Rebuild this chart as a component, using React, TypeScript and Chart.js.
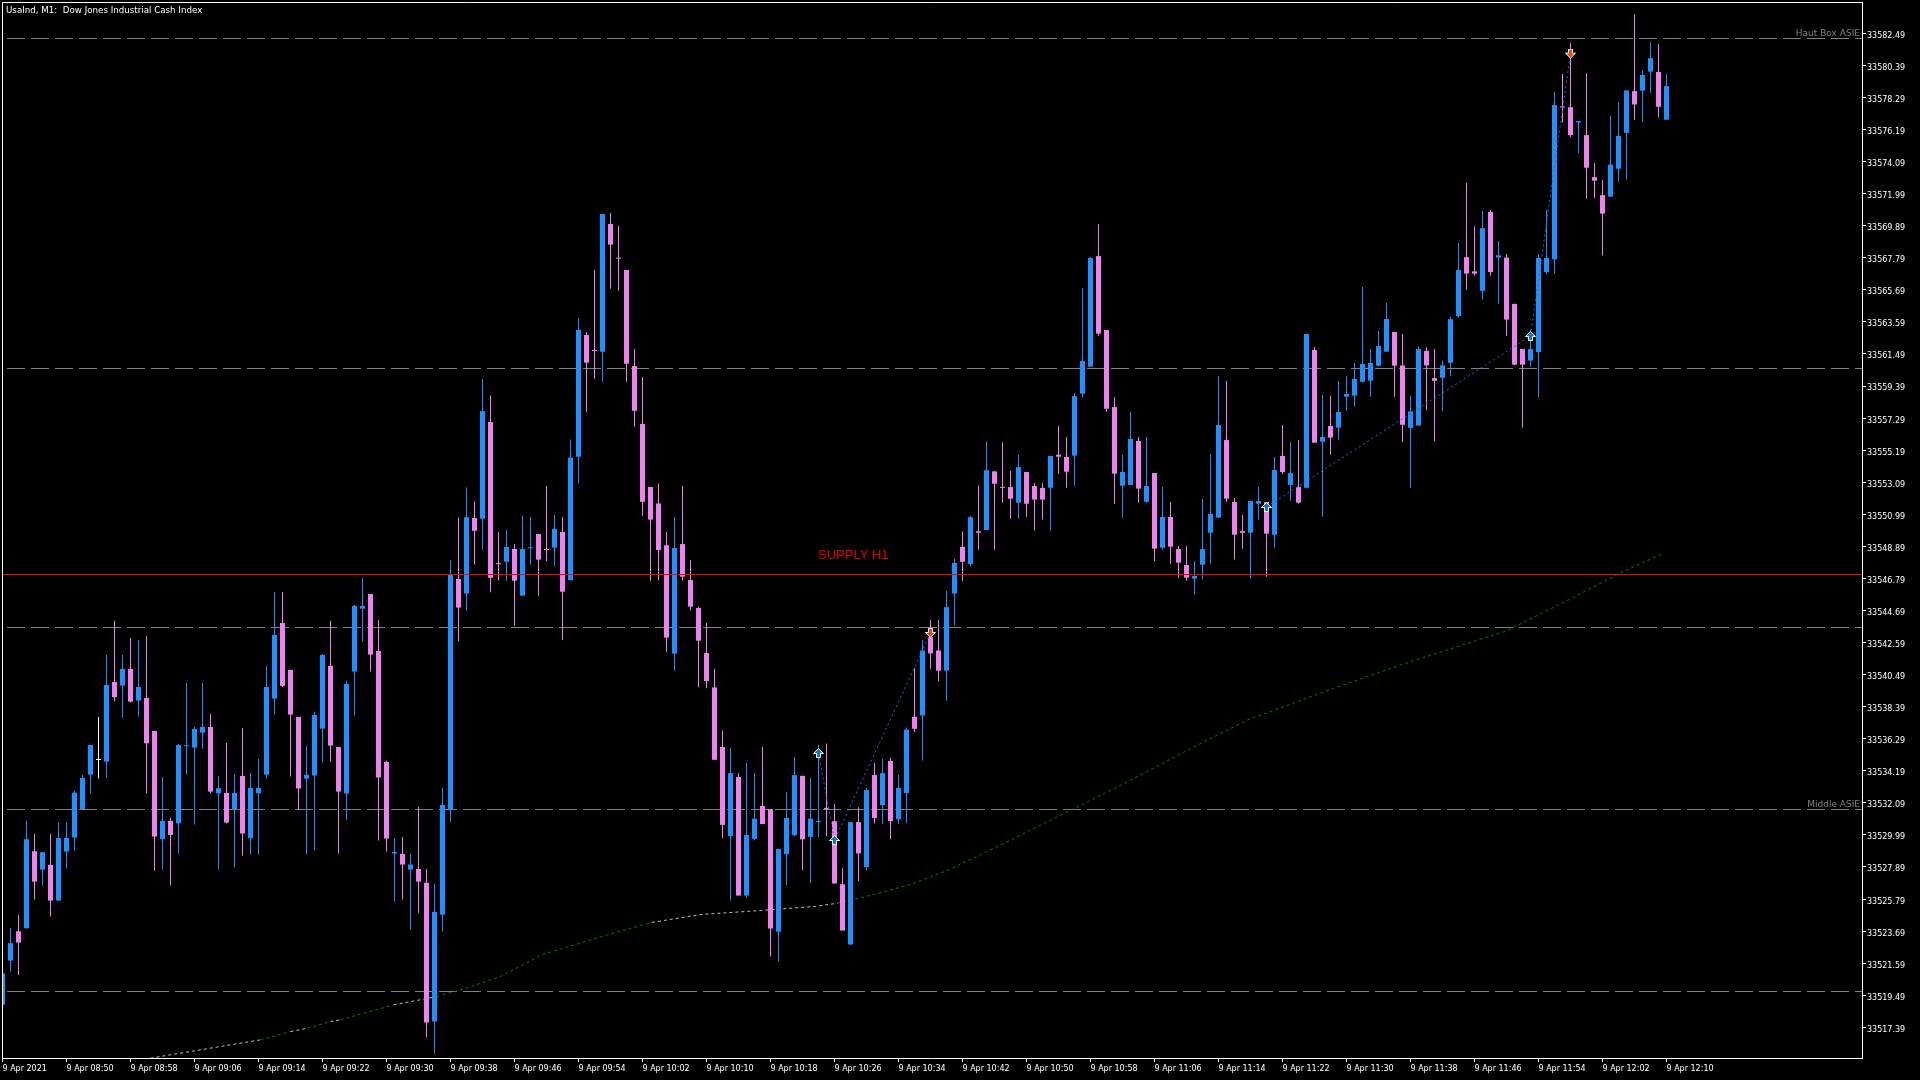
import React, { useEffect, useRef } from 'react';
import { Chart, registerables } from 'chart.js';

Chart.register(...registerables);

// ---------- data ----------
const chartTitle = 'UsaInd, M1:  Dow Jones Industrial Cash Index';

const timeLabels = [
  '9 Apr 2021', '9 Apr 08:50', '9 Apr 08:58', '9 Apr 09:06', '9 Apr 09:14', '9 Apr 09:22', '9 Apr 09:30',
  '9 Apr 09:38', '9 Apr 09:46', '9 Apr 09:54', '9 Apr 10:02', '9 Apr 10:10', '9 Apr 10:18', '9 Apr 10:26',
  '9 Apr 10:34', '9 Apr 10:42', '9 Apr 10:50', '9 Apr 10:58', '9 Apr 11:06', '9 Apr 11:14', '9 Apr 11:22',
  '9 Apr 11:30', '9 Apr 11:38', '9 Apr 11:46', '9 Apr 11:54', '9 Apr 12:02', '9 Apr 12:10',
];
const barsPerTimeLabel = 8;

const yTickLabels = [
  '33582.49', '33580.39', '33578.29', '33576.19', '33574.09', '33571.99', '33569.89', '33567.79',
  '33565.69', '33563.59', '33561.49', '33559.39', '33557.29', '33555.19', '33553.09', '33550.99',
  '33548.89', '33546.79', '33544.69', '33542.59', '33540.49', '33538.39', '33536.29', '33534.19',
  '33532.09', '33529.99', '33527.89', '33525.79', '33523.69', '33521.59', '33519.49', '33517.39',
];
const priceMin = 33515.38;
const priceMax = 33584.54;

const opens = [
  33518.86, 33521.76, 33523.68, 33523.88, 33528.92, 33527.72, 33528.03, 33525.69, 33528.90, 33529.82,
  33531.69, 33533.94, 33534.90, 33534.79, 33540.01, 33539.77, 33540.86, 33538.79, 33538.96, 33536.80,
  33529.71, 33530.91, 33530.75, 33535.80, 33535.71, 33536.69, 33537.06, 33532.72, 33532.74, 33531.69,
  33533.85, 33529.77, 33532.72, 33533.94, 33538.92, 33543.87, 33540.80, 33537.72, 33533.68, 33533.88,
  33536.95, 33541.06, 33535.75, 33532.70, 33540.69, 33544.81, 33545.77, 33542.04, 33534.77, 33528.77,
  33528.75, 33527.72, 33527.76, 33526.85, 33517.77, 33524.77, 33531.68, 33546.75, 33545.80, 33550.75,
  33550.70, 33557.04, 33547.78, 33547.88, 33548.72, 33545.66, 33548.76, 33549.70, 33548.69, 33548.80,
  33549.83, 33546.67, 33554.76, 33562.73, 33561.73, 33561.64, 33570.00, 33567.77, 33566.99, 33560.70,
  33556.90, 33552.78, 33551.70, 33548.96, 33541.86, 33549.04, 33546.68, 33544.85, 33541.90, 33539.65,
  33535.75, 33529.91, 33533.78, 33526.02, 33529.73, 33531.89, 33531.68, 33523.65, 33528.73, 33529.97,
  33533.86, 33529.86, 33530.83, 33531.76, 33530.89, 33526.76, 33522.81, 33530.83, 33527.89, 33533.91,
  33531.94, 33534.83, 33531.02, 33532.73, 33537.73, 33537.81, 33542.94, 33542.07, 33540.75, 33545.80,
  33548.86, 33547.73, 33549.88, 33549.96, 33553.80, 33552.78, 33552.77, 33551.75, 33553.76, 33552.84,
  33552.71, 33552.73, 33554.89, 33554.74, 33554.83, 33558.89, 33560.66, 33567.90, 33563.06, 33558.01,
  33552.86, 33552.91, 33555.79, 33551.81, 33553.69, 33548.80, 33550.81, 33548.71, 33547.67, 33546.77,
  33547.69, 33549.78, 33550.77, 33555.85, 33551.79, 33549.89, 33549.78, 33551.68, 33551.79, 33549.65,
  33554.81, 33552.91, 33552.77, 33552.73, 33561.75, 33555.74, 33556.77, 33556.66, 33558.69, 33558.76,
  33559.67, 33559.74, 33560.72, 33561.64, 33562.93, 33560.74, 33556.65, 33556.80, 33561.69, 33559.91,
  33559.93, 33560.91, 33563.97, 33567.83, 33566.90, 33565.62, 33570.79, 33567.80, 33567.80, 33564.77,
  33561.81, 33561.06, 33561.61, 33566.85, 33567.70, 33577.70, 33577.65, 33576.65, 33575.82, 33573.07,
  33571.89, 33571.79, 33573.62, 33575.97, 33578.70, 33578.73, 33579.98, 33579.96, 33576.83,
];
const highs = [
  33520.93, 33523.90, 33524.75, 33530.91, 33530.06, 33528.86, 33530.06, 33530.78, 33530.84, 33532.89,
  33533.92, 33535.88, 33537.72, 33541.78, 33544.01, 33541.78, 33542.89, 33542.76, 33543.02, 33536.80,
  33533.79, 33531.10, 33535.95, 33539.94, 33537.06, 33539.94, 33537.92, 33533.85, 33536.02, 33533.99,
  33537.00, 33534.05, 33534.97, 33541.06, 33545.90, 33545.90, 33540.80, 33537.72, 33535.82, 33538.05,
  33541.84, 33544.01, 33535.75, 33540.08, 33545.05, 33546.82, 33545.77, 33544.07, 33534.84, 33529.79,
  33529.86, 33528.77, 33531.82, 33527.76, 33526.78, 33533.07, 33547.99, 33550.78, 33552.75, 33551.83,
  33559.85, 33558.77, 33549.83, 33549.96, 33549.04, 33550.88, 33550.81, 33549.70, 33552.84, 33550.94,
  33550.81, 33555.88, 33563.84, 33562.93, 33566.99, 33570.65, 33570.72, 33569.87, 33566.99, 33561.81,
  33559.98, 33552.78, 33553.01, 33549.83, 33550.81, 33552.84, 33548.00, 33544.94, 33543.87, 33540.88,
  33536.83, 33535.68, 33534.04, 33534.70, 33534.04, 33535.75, 33531.68, 33529.07, 33532.81, 33535.10,
  33533.86, 33533.73, 33535.89, 33535.97, 33532.02, 33527.81, 33530.83, 33531.81, 33533.07, 33534.70,
  33534.96, 33535.04, 33533.91, 33537.02, 33540.91, 33542.75, 33544.07, 33544.07, 33545.96, 33548.07,
  33549.86, 33550.88, 33552.88, 33555.75, 33553.80, 33555.70, 33553.82, 33554.87, 33553.76, 33553.04,
  33553.04, 33554.81, 33556.77, 33556.05, 33558.93, 33565.81, 33567.84, 33570.00, 33563.06, 33558.67,
  33554.87, 33557.69, 33556.05, 33556.05, 33553.69, 33552.77, 33551.79, 33548.91, 33548.91, 33547.93,
  33551.99, 33554.94, 33560.07, 33559.72, 33552.05, 33550.94, 33551.86, 33552.77, 33551.79, 33554.74,
  33556.84, 33555.72, 33555.85, 33562.79, 33561.94, 33558.80, 33558.73, 33559.72, 33560.04, 33560.90,
  33565.87, 33561.81, 33562.99, 33564.82, 33562.93, 33562.79, 33558.73, 33561.99, 33561.91, 33561.81,
  33561.04, 33563.92, 33568.76, 33572.69, 33569.86, 33570.86, 33570.91, 33568.88, 33568.03, 33564.77,
  33561.81, 33563.07, 33568.03, 33570.91, 33578.65, 33579.83, 33581.86, 33576.75, 33579.88, 33573.99,
  33572.89, 33577.08, 33577.98, 33578.75, 33583.74, 33580.08, 33581.91, 33581.79, 33579.83,
];
const lows = [
  33518.86, 33521.04, 33520.82, 33523.84, 33525.76, 33526.67, 33524.64, 33525.69, 33527.79, 33528.96,
  33531.69, 33532.70, 33533.68, 33533.75, 33538.72, 33537.67, 33538.66, 33537.74, 33532.70, 33527.65,
  33527.72, 33526.67, 33528.77, 33533.94, 33530.67, 33535.64, 33532.70, 33527.72, 33530.73, 33527.87,
  33528.64, 33528.70, 33528.70, 33533.68, 33537.87, 33539.68, 33533.81, 33531.65, 33528.70, 33528.96,
  33534.73, 33534.79, 33528.77, 33530.99, 33537.81, 33542.65, 33540.69, 33529.62, 33528.90, 33525.62,
  33525.76, 33523.79, 33524.90, 33516.72, 33515.67, 33523.66, 33530.83, 33542.67, 33544.67, 33547.70,
  33548.67, 33545.88, 33546.65, 33546.64, 33543.69, 33545.66, 33547.69, 33545.66, 33547.89, 33547.62,
  33542.78, 33546.67, 33553.00, 33557.71, 33559.87, 33559.67, 33565.76, 33565.63, 33559.67, 33556.73,
  33550.90, 33546.64, 33546.65, 33541.99, 33540.75, 33546.64, 33544.68, 33539.66, 33539.59, 33534.91,
  33529.78, 33525.70, 33526.02, 33525.84, 33529.65, 33530.70, 33522.02, 33521.71, 33526.70, 33529.91,
  33527.68, 33526.84, 33529.83, 33529.91, 33526.81, 33523.73, 33522.81, 33526.97, 33527.68, 33530.76,
  33530.70, 33529.70, 33530.70, 33530.76, 33536.73, 33534.86, 33540.88, 33540.04, 33538.78, 33543.73,
  33546.62, 33547.59, 33548.67, 33549.96, 33548.67, 33551.75, 33550.70, 33550.70, 33550.83, 33549.92,
  33550.64, 33549.92, 33553.65, 33552.73, 33552.86, 33558.62, 33560.66, 33562.69, 33557.71, 33551.68,
  33550.77, 33552.91, 33551.75, 33551.75, 33547.89, 33548.67, 33547.75, 33546.84, 33546.64, 33545.72,
  33546.71, 33547.75, 33550.77, 33551.81, 33548.02, 33548.74, 33546.77, 33550.64, 33546.90, 33548.80,
  33553.63, 33551.88, 33551.68, 33552.67, 33555.68, 33550.83, 33554.89, 33555.87, 33557.77, 33558.04,
  33559.61, 33558.69, 33560.66, 33561.64, 33558.69, 33555.72, 33552.71, 33556.80, 33557.80, 33555.77,
  33557.73, 33560.03, 33563.87, 33565.70, 33566.63, 33565.05, 33566.63, 33564.80, 33562.69, 33560.74,
  33556.67, 33560.66, 33558.66, 33566.68, 33566.75, 33576.65, 33575.70, 33574.65, 33571.66, 33571.71,
  33567.93, 33571.79, 33572.77, 33572.92, 33576.83, 33576.70, 33578.60, 33576.98, 33576.83,
];
const closes = [
  33520.93, 33522.90, 33522.94, 33529.71, 33526.93, 33528.86, 33525.69, 33529.79, 33529.79, 33532.76,
  33533.72, 33535.88, 33534.90, 33539.81, 33539.01, 33540.86, 33538.72, 33539.68, 33535.99, 33529.88,
  33530.91, 33529.99, 33535.88, 33535.84, 33536.93, 33537.06, 33532.83, 33533.05, 33530.80, 33532.74,
  33530.08, 33533.07, 33533.07, 33539.68, 33543.09, 33539.75, 33537.87, 33533.03, 33533.92, 33537.85,
  33541.78, 33535.84, 33532.83, 33539.88, 33544.99, 33544.99, 33541.80, 33533.75, 33529.75, 33528.88,
  33528.05, 33528.05, 33526.93, 33517.70, 33524.95, 33531.96, 33547.01, 33544.88, 33550.80, 33549.91,
  33557.75, 33546.83, 33547.72, 33548.85, 33546.64, 33548.72, 33548.82, 33548.02, 33548.65, 33550.03,
  33545.92, 33554.70, 33563.06, 33560.92, 33561.68, 33570.65, 33568.65, 33567.73, 33560.85, 33557.77,
  33551.81, 33550.64, 33548.65, 33542.91, 33548.78, 33546.90, 33544.94, 33542.71, 33540.07, 33534.91,
  33530.65, 33534.04, 33526.02, 33529.99, 33531.05, 33530.70, 33523.86, 33529.07, 33531.10, 33533.91,
  33529.70, 33531.05, 33530.91, 33531.68, 33526.81, 33523.73, 33530.83, 33528.78, 33532.94, 33531.10,
  33534.04, 33530.89, 33533.07, 33536.89, 33536.94, 33542.07, 33541.88, 33540.75, 33544.91, 33547.80,
  33547.88, 33550.80, 33549.78, 33553.88, 33552.99, 33552.72, 33552.01, 33554.08, 33551.68, 33551.95,
  33551.95, 33554.81, 33554.76, 33553.78, 33558.73, 33561.03, 33567.77, 33562.82, 33557.90, 33553.65,
  33553.76, 33555.92, 33552.67, 33552.84, 33548.74, 33550.81, 33548.87, 33547.82, 33546.84, 33546.95,
  33548.71, 33551.01, 33556.84, 33552.01, 33549.65, 33549.78, 33551.86, 33551.86, 33549.72, 33553.89,
  33553.76, 33553.69, 33551.75, 33562.79, 33555.68, 33556.05, 33556.01, 33557.69, 33558.87, 33559.85,
  33560.83, 33560.90, 33562.01, 33563.78, 33560.72, 33556.85, 33557.73, 33561.81, 33560.74, 33559.73,
  33560.74, 33563.77, 33566.98, 33566.75, 33566.75, 33569.73, 33566.85, 33567.95, 33563.74, 33560.79,
  33560.79, 33561.81, 33567.78, 33567.78, 33577.80, 33577.63, 33575.82, 33576.75, 33573.69, 33572.84,
  33570.68, 33573.89, 33575.77, 33578.75, 33577.83, 33579.76, 33580.86, 33577.68, 33579.03,
];

// moving average (sparse readings: bar index / price)
const maIndex = [
  18.5, 32.25, 36, 38.1, 41, 42.25, 48.9, 54.3, 57.7, 62.25, 67.4, 76.6, 81.2, 87.3, 95.1, 101.6,
  104.4, 109, 113.6, 118.2, 122.9, 126, 140, 148, 155.6, 166.4, 174.75, 188, 196, 202.25, 207.7,
];
const maValues = [
  33515.37, 33516.57, 33517.11, 33517.33, 33517.77, 33517.88, 33518.86, 33519.40, 33519.91, 33520.71,
  33522.15, 33523.60, 33524.26, 33524.78, 33525.05, 33525.31, 33525.52, 33526.10, 33526.76, 33527.68,
  33528.86, 33529.65, 33533.30, 33535.50, 33537.52, 33539.59, 33541.12, 33543.35, 33545.45, 33547.15,
  33548.46,
];
const maFlatRanges = [[18.5, 32.25], [36, 38.1], [41, 42.25], [48.9, 54.3], [81.2, 104.4]];

// signal arrows
const signalIndex = [102, 104, 116, 158, 191, 196];
const signalValues = [33535.36, 33529.66, 33543.22, 33551.47, 33562.67, 33581.16];
const signalTypes = ['buy', 'buy', 'sell', 'buy', 'buy', 'sell'];

// zigzag connecting the signals (null = break)
const zigzagIndex = [102, 104, 116, 137, 158, 191, 196];
const zigzagValues = [33535.36, 33529.66, 33543.22, null, 33551.47, 33562.67, 33581.16];

// horizontal levels
const boxLevels = [33582.20, 33560.55, 33543.59, 33531.67, 33519.77];
const boxLabels = ['Haut Box ASIE', '', '', 'Middle ASIE', ''];
const supplyLevel = 33547.08;
const supplyLabel = 'SUPPLY H1';
const supplyLabelBar = 102;

// ---------- styles ----------
const UP = '#1E90FF';
const DOWN = '#EE82EE';
const DOJI = '#FFFFFF';
const MA_GREEN = '#008000';
const MA_GRAY = '#C0C0C0';
const LEVEL_GRAY = '#808080';
const FONT = '"DejaVu Sans", sans-serif';

const candleColors = opens.map((o, i) => (closes[i] > o ? UP : closes[i] < o ? DOWN : DOJI));

const isFlat = (x: number) => maFlatRanges.some(([a, b]) => x >= a && x < b);

function makeArrow(up: boolean, fill: string): HTMLCanvasElement {
  const c = document.createElement('canvas');
  c.width = 11;
  c.height = 10;
  const g = c.getContext('2d')!;
  const pts = up
    ? [[5.5, 0.5], [10.5, 5.5], [7.5, 5.5], [7.5, 9.5], [3.5, 9.5], [3.5, 5.5], [0.5, 5.5]]
    : [[5.5, 9.5], [10.5, 4.5], [7.5, 4.5], [7.5, 0.5], [3.5, 0.5], [3.5, 4.5], [0.5, 4.5]];
  g.beginPath();
  pts.forEach(([x, y], k) => (k ? g.lineTo(x, y) : g.moveTo(x, y)));
  g.closePath();
  g.fillStyle = fill;
  g.fill();
  g.strokeStyle = '#FFFFFF';
  g.lineWidth = 1;
  g.stroke();
  return c;
}

const overlayPlugin = {
  id: 'overlay',
  beforeDatasetsDraw(chart: any) {
    const { ctx, chartArea, scales } = chart;
    const { right } = chartArea;
    ctx.save();
    ctx.strokeStyle = LEVEL_GRAY;
    ctx.lineWidth = 1;
    ctx.setLineDash([18, 6]);
    boxLevels.forEach((v) => {
      const py = Math.round(scales.y.getPixelForValue(v)) + 0.5;
      ctx.beginPath();
      ctx.moveTo(7, py);
      ctx.lineTo(right, py);
      ctx.stroke();
    });
    ctx.restore();
  },
  afterDatasetsDraw(chart: any) {
    const { ctx, chartArea, scales } = chart;
    const { left, right } = chartArea;
    ctx.save();
    const sy = Math.round(scales.y.getPixelForValue(supplyLevel)) + 0.5;
    ctx.strokeStyle = '#FF0000';
    ctx.lineWidth = 1;
    ctx.beginPath();
    ctx.moveTo(left, sy);
    ctx.lineTo(right, sy);
    ctx.stroke();
    ctx.fillStyle = '#E60000';
    ctx.font = '13px "Liberation Sans", Arial, sans-serif';
    ctx.textAlign = 'left';
    ctx.textBaseline = 'alphabetic';
    ctx.fillText(supplyLabel, scales.x.getPixelForValue(supplyLabelBar) - 0.5, sy - 16);
    ctx.fillStyle = LEVEL_GRAY;
    ctx.font = `9px ${FONT}`;
    ctx.textAlign = 'right';
    boxLevels.forEach((v, k) => {
      if (!boxLabels[k]) return;
      const py = Math.round(scales.y.getPixelForValue(v));
      ctx.fillText(boxLabels[k], right - 2, py - 2);
    });
    ctx.restore();
  },
  afterDraw(chart: any) {
    const { ctx, chartArea } = chart;
    const { left, top, right, bottom } = chartArea;
    ctx.save();
    ctx.strokeStyle = '#FFFFFF';
    ctx.lineWidth = 1;
    ctx.beginPath();
    ctx.moveTo(left + 0.5, bottom);
    ctx.lineTo(left + 0.5, top + 0.5);
    ctx.lineTo(right, top + 0.5);
    ctx.stroke();
    ctx.fillStyle = '#FFFFFF';
    ctx.font = `8.7px ${FONT}`;
    ctx.textAlign = 'left';
    ctx.textBaseline = 'alphabetic';
    ctx.fillText(chartTitle, 6, 13);
    ctx.restore();
  },
};

export default function App() {
  const ref = useRef<HTMLCanvasElement>(null);

  useEffect(() => {
    document.body.style.margin = '0';
    document.body.style.background = '#000';
    const canvas = ref.current;
    if (!canvas) return;

    const buyArrow = makeArrow(true, '#1A6FD8');
    const sellArrow = makeArrow(false, '#F04020');

    const wickData = opens.map((_, i) => ({ x: i, y: [lows[i], highs[i]] }));
    const bodyData = opens.map((o, i) => ({ x: i, y: [o, closes[i]] }));
    const maData = maIndex.map((x, k) => ({ x, y: maValues[k] }));
    const zigzagData = zigzagIndex.map((x, k) => ({ x, y: zigzagValues[k] }));
    const signalData = signalIndex.map((x, k) => ({ x, y: signalValues[k] }));

    const chart = new Chart(canvas, {
      type: 'bar',
      data: {
        datasets: [
          {
            type: 'line',
            label: 'MA',
            data: maData as any,
            borderColor: MA_GREEN,
            borderWidth: 1,
            borderDash: [3, 3],
            pointRadius: 0,
            tension: 0,
            clip: 0,
            order: 5,
            segment: {
              borderColor: (ctx: any) => (isFlat(ctx.p0.parsed.x) ? MA_GRAY : MA_GREEN),
            },
          } as any,
          {
            type: 'bar',
            label: 'wick',
            data: wickData as any,
            backgroundColor: candleColors,
            barThickness: 1,
            grouped: false,
            minBarLength: 1,
            inflateAmount: 0,
            borderWidth: 0,
            clip: 0,
            order: 4,
          } as any,
          {
            type: 'bar',
            label: 'body',
            data: bodyData as any,
            backgroundColor: candleColors,
            barThickness: 5,
            grouped: false,
            minBarLength: 1,
            inflateAmount: 0,
            borderWidth: 0,
            clip: 0,
            order: 3,
          } as any,
          {
            type: 'line',
            label: 'zigzag',
            data: zigzagData as any,
            borderColor: '#2070D0',
            borderWidth: 1,
            borderDash: [2, 3],
            pointRadius: 0,
            spanGaps: false,
            clip: 0,
            order: 2,
          } as any,
          {
            type: 'line',
            label: 'signals',
            data: signalData as any,
            showLine: false,
            pointStyle: signalTypes.map((t) => (t === 'sell' ? sellArrow : buyArrow)),
            pointRadius: 5,
            clip: 0,
            order: 1,
          } as any,
        ],
      },
      options: {
        animation: false,
        responsive: false,
        maintainAspectRatio: false,
        devicePixelRatio: 1,
        events: [],
        layout: { autoPadding: false, padding: { left: 2, top: 2, right: 0, bottom: 0 } },
        plugins: {
          legend: { display: false },
          tooltip: { enabled: false },
          title: { display: false },
        },
        scales: {
          x: {
            type: 'linear',
            position: 'bottom',
            min: -0.0625,
            max: 232.4375,
            offset: false,
            afterBuildTicks: (s: any) => {
              s.ticks = timeLabels.map((_, k) => ({ value: k * barsPerTimeLabel }));
            },
            afterFit: (s: any) => {
              s.height = 22;
              s.paddingLeft = 0;
              s.paddingRight = 0;
            },
            ticks: {
              autoSkip: false,
              maxRotation: 0,
              minRotation: 0,
              align: 'start',
              color: '#FFFFFF',
              padding: 2,
              font: { family: FONT, size: 8 },
              callback: (v: any) => timeLabels[Math.round(Number(v) / barsPerTimeLabel)] ?? '',
            },
            grid: {
              offset: false,
              drawOnChartArea: false,
              drawTicks: true,
              tickLength: 4,
              color: '#FFFFFF',
              tickColor: '#FFFFFF',
              tickWidth: 1,
            },
            border: { display: true, color: '#FFFFFF', width: 1 },
          } as any,
          y: {
            type: 'linear',
            position: 'right',
            min: priceMin,
            max: priceMax,
            beginAtZero: false,
            afterBuildTicks: (s: any) => {
              s.ticks = yTickLabels.map((t) => ({ value: parseFloat(t) }));
            },
            afterFit: (s: any) => {
              s.width = 58;
              s.paddingTop = 0;
              s.paddingBottom = 0;
            },
            ticks: {
              autoSkip: false,
              color: '#FFFFFF',
              padding: 1,
              font: { family: FONT, size: 8, lineHeight: 0.6 },
              // empty first line nudges the value down so digits sit centred on the tick mark
              callback: (v: any) => ['', Number(v).toFixed(2)],
            },
            grid: {
              drawOnChartArea: false,
              drawTicks: true,
              tickLength: 4,
              color: '#FFFFFF',
              tickColor: '#FFFFFF',
              tickWidth: 1,
            },
            border: { display: true, color: '#FFFFFF', width: 1 },
          } as any,
        },
      },
      plugins: [overlayPlugin],
    });

    return () => chart.destroy();
  }, []);

  return (
    <div style={{ position: 'fixed', left: 0, top: 0, width: 1920, height: 1080, background: '#000' }}>
      <canvas ref={ref} width={1920} height={1080} style={{ width: 1920, height: 1080, display: 'block' }} />
    </div>
  );
}
